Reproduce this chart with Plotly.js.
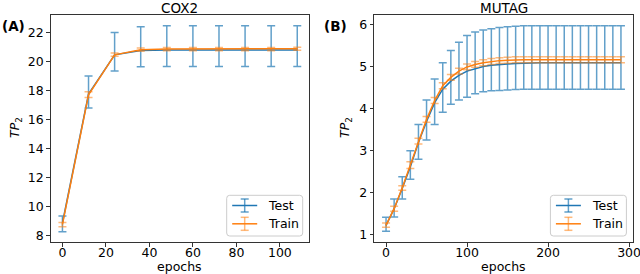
<!DOCTYPE html>
<html>
<head>
<meta charset="utf-8">
<script src="https://cdn.plot.ly/plotly-3.0.1.min.js"></script>
<style>html,body{margin:0;padding:0;background:#fff;}#chart{width:640px;height:274px;}</style>
</head>
<body>
<div id="chart"></div>
<script>
// ---------- DATA ----------
// COX2
const coxEpochs = [0, 12, 24, 36, 48, 60, 72, 84, 96, 108];
const coxTestMean  = [8.85, 17.75, 20.45, 20.75, 20.78, 20.78, 20.78, 20.78, 20.78, 20.78];
const coxTestUpper = [9.33, 19.0, 22.0, 22.39, 22.46, 22.46, 22.46, 22.46, 22.46, 22.46];
const coxTestLower = [8.25, 16.78, 19.33, 19.63, 19.65, 19.65, 19.65, 19.65, 19.65, 19.65];
const coxTrainMean  = [8.75, 17.7, 20.45, 20.8, 20.85, 20.85, 20.85, 20.85, 20.85, 20.87];
const coxTrainUpper = [8.88, 17.9, 20.57, 20.92, 20.96, 20.96, 20.96, 20.96, 20.96, 20.98];
const coxTrainLower = [8.6, 17.5, 20.35, 20.7, 20.74, 20.74, 20.74, 20.74, 20.74, 20.76];

// MUTAG
const mutEpochs = [0,10,20,30,40,50,60,70,80,90,100,110,120,130,140,150,160,170,180,190,200,210,220,230,240,250,260,270,280,290];
const mutTestMean  = [1.22,1.62,2.1,2.62,3.2,3.7,4.15,4.47,4.66,4.8,4.9,4.96,5.01,5.04,5.06,5.07,5.08,5.09,5.1,5.1,5.1,5.1,5.1,5.1,5.1,5.1,5.1,5.1,5.1,5.1];
const mutTestUpper = [1.415,1.85,2.38,3.0,3.63,4.21,4.71,5.1,5.39,5.59,5.75,5.83,5.88,5.91,5.94,5.96,5.97,5.98,5.98,5.98,5.98,5.98,5.98,5.98,5.98,5.98,5.98,5.98,5.98,5.98];
const mutTestLower = [1.08,1.42,1.85,2.32,2.8,3.26,3.63,3.92,4.11,4.21,4.28,4.36,4.41,4.43,4.44,4.45,4.46,4.47,4.47,4.47,4.47,4.47,4.47,4.47,4.47,4.47,4.47,4.47,4.47,4.47];
const mutTrainMean  = [1.23,1.62,2.12,2.66,3.23,3.75,4.2,4.55,4.75,4.9,5.0,5.06,5.1,5.13,5.15,5.16,5.17,5.17,5.17,5.17,5.17,5.17,5.17,5.17,5.17,5.17,5.17,5.17,5.17,5.17];
const mutTrainUpper = [1.28,1.68,2.17,2.74,3.3,3.82,4.27,4.62,4.82,4.97,5.07,5.13,5.17,5.2,5.22,5.23,5.24,5.24,5.24,5.24,5.24,5.24,5.24,5.24,5.24,5.24,5.24,5.24,5.24,5.24];
const mutTrainLower = [1.18,1.56,2.06,2.58,3.16,3.68,4.13,4.48,4.68,4.83,4.93,4.99,5.03,5.06,5.08,5.09,5.1,5.1,5.1,5.1,5.1,5.1,5.1,5.1,5.1,5.1,5.1,5.1,5.1,5.1];

const seriesNames = ['Test', 'Train'];
const panelTitles = ['COX2', 'MUTAG'];
const panelLabels = ['(A)', '(B)'];

// ---------- STYLE ----------
const W = 640, H = 274;
const MT = 15, MB = 32;
const BLUE = '#1f77b4', ORANGE = '#ff7f0e';
const BLUE_ERR = 'rgba(31,119,180,0.7)', ORANGE_ERR = 'rgba(255,127,14,0.55)';
const FONT = 'DejaVu Sans, sans-serif';
const px = x => x / W;
const py = y => 1 - (y - MT) / (H - MT - MB);

function plus(u, m) { return u.map((v, i) => v - m[i]); }
function minus(l, m) { return m.map((v, i) => v - l[i]); }

function trace(x, mean, up, lo, color, errColor, xa, ya, capw) {
  return {
    x: x, y: mean, type: 'scatter', mode: 'lines',
    xaxis: xa, yaxis: ya, showlegend: false,
    line: {color: color, width: 1.5},
    error_y: {type: 'data', symmetric: false, array: plus(up, mean), arrayminus: minus(lo, mean),
              color: errColor, thickness: 1.5, width: capw},
    hoverinfo: 'skip'
  };
}

const data = [
  trace(coxEpochs, coxTestMean, coxTestUpper, coxTestLower, BLUE, BLUE_ERR, 'x', 'y', 4),
  trace(coxEpochs, coxTrainMean, coxTrainUpper, coxTrainLower, ORANGE, ORANGE_ERR, 'x', 'y', 4),
  trace(mutEpochs, mutTestMean, mutTestUpper, mutTestLower, BLUE, BLUE_ERR, 'x2', 'y2', 4),
  trace(mutEpochs, mutTrainMean, mutTrainUpper, mutTrainLower, ORANGE, ORANGE_ERR, 'x2', 'y2', 4)
];

const axBase = {
  showline: true, mirror: true, linecolor: '#333', linewidth: 1,
  ticks: 'outside', ticklen: 3.5, tickwidth: 1, tickcolor: '#333',
  showgrid: false, zeroline: false, ticklabeloverflow: 'allow',
  tickfont: {family: FONT, size: 12.5, color: '#000'}
};
const xExtra = {ticklabelstandoff: -5};

const panels = [
  {left: 50.7, right: 309},
  {left: 374.3, right: 632.7}
];

const annotations = [];
const shapes = [];
panels.forEach((p, i) => {
  const cx = (p.left + p.right) / 2;
  annotations.push({xref: 'paper', yref: 'paper', x: px(cx), y: py(7.5), text: panelTitles[i],
    showarrow: false, xanchor: 'center', yanchor: 'middle', font: {family: FONT, size: 13.5, color: '#000'}});
  annotations.push({xref: 'paper', yref: 'paper', x: px(cx), y: py(266), text: 'epochs',
    showarrow: false, xanchor: 'center', yanchor: 'middle', font: {family: FONT, size: 12.5, color: '#000'}});
  annotations.push({xref: 'paper', yref: 'paper', x: px(i === 0 ? 0 : 322), y: py(26), text: '<b>' + panelLabels[i] + '</b>',
    showarrow: false, xanchor: 'left', yanchor: 'middle', font: {family: FONT, size: 13.5, color: '#000'}});
  annotations.push({xref: 'paper', yref: 'paper', x: px(i === 0 ? 15 : 345), y: py(128), text: '<i>TP</i><sub>2</sub>',
    textangle: -90, showarrow: false, xanchor: 'center', yanchor: 'middle', font: {family: FONT, size: 12.5, color: '#000'}});

  // legend (matplotlib style) built from shapes + annotations
  const lx0 = p.right - 82.3, lx1 = p.right - 6.3, ly0 = 195.3, ly1 = 236;
  const r = 3;
  const X = v => px(v), Y = v => py(v);
  const path = `M ${X(lx0 + r)} ${Y(ly0)} L ${X(lx1 - r)} ${Y(ly0)} Q ${X(lx1)} ${Y(ly0)} ${X(lx1)} ${Y(ly0 + r)} ` +
    `L ${X(lx1)} ${Y(ly1 - r)} Q ${X(lx1)} ${Y(ly1)} ${X(lx1 - r)} ${Y(ly1)} L ${X(lx0 + r)} ${Y(ly1)} ` +
    `Q ${X(lx0)} ${Y(ly1)} ${X(lx0)} ${Y(ly1 - r)} L ${X(lx0)} ${Y(ly0 + r)} Q ${X(lx0)} ${Y(ly0)} ${X(lx0 + r)} ${Y(ly0)} Z`;
  shapes.push({type: 'path', xref: 'paper', yref: 'paper', path: path,
    line: {color: '#cccccc', width: 1}, fillcolor: 'rgba(255,255,255,0.8)', layer: 'above'});
  const entries = [{y: 205.5, c: BLUE, e: BLUE_ERR}, {y: 223.8, c: ORANGE, e: ORANGE_ERR}];
  entries.forEach((en, k) => {
    const gx0 = lx0 + 5.5, gx1 = lx0 + 30.5, gc = (gx0 + gx1) / 2;
    shapes.push({type: 'line', xref: 'paper', yref: 'paper', x0: px(gx0), x1: px(gx1), y0: py(en.y), y1: py(en.y),
      line: {color: en.c, width: 1.5}, layer: 'above'});
    shapes.push({type: 'line', xref: 'paper', yref: 'paper', x0: px(gc), x1: px(gc), y0: py(en.y - 6.5), y1: py(en.y + 6.5),
      line: {color: en.e, width: 1.5}, layer: 'above'});
    [-6.5, 6.5].forEach(d => {
      shapes.push({type: 'line', xref: 'paper', yref: 'paper', x0: px(gc - 4), x1: px(gc + 4), y0: py(en.y + d), y1: py(en.y + d),
        line: {color: en.e, width: 1.5}, layer: 'above'});
    });
    annotations.push({xref: 'paper', yref: 'paper', x: px(lx0 + 39.5), y: py(en.y), text: seriesNames[k],
      showarrow: false, xanchor: 'left', yanchor: 'middle', font: {family: FONT, size: 12.5, color: '#000'}});
  });
});

const layout = {
  width: W, height: H,
  margin: {l: 0, r: 0, t: MT, b: MB, pad: 0},
  paper_bgcolor: '#fff', plot_bgcolor: '#fff',
  showlegend: false,
  xaxis: Object.assign({}, axBase, xExtra, {domain: [px(50.7), px(309)], range: [-5.4, 113.4], tickvals: [0, 20, 40, 60, 80, 100], anchor: 'y'}),
  yaxis: Object.assign({}, axBase, {domain: [0, 1], range: [7.54, 23.2], tickvals: [8, 10, 12, 14, 16, 18, 20, 22], anchor: 'x'}),
  xaxis2: Object.assign({}, axBase, xExtra, {domain: [px(374.3), px(632.7)], range: [-14.5, 304.5], tickvals: [0, 100, 200, 300], anchor: 'y2'}),
  yaxis2: Object.assign({}, axBase, {domain: [0, 1], range: [0.826, 6.238], tickvals: [1, 2, 3, 4, 5, 6], anchor: 'x2'}),
  annotations: annotations,
  shapes: shapes
};

Plotly.newPlot('chart', data, layout, {staticPlot: true, displayModeBar: false});
</script>
</body>
</html>
